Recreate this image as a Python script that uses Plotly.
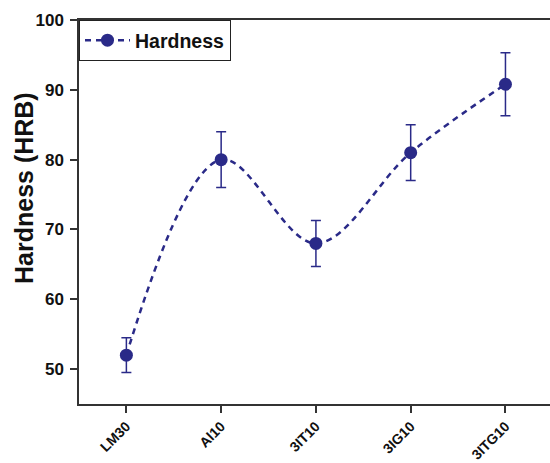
import plotly.graph_objects as go

categories = ["LM30", "Al10", "3IT10", "3IG10", "3ITG10"]
hardness = [52, 80, 68, 81, 90.8]
hardness_err = [2.5, 4.0, 3.3, 4.0, 4.5]
y_ticks = [50, 60, 70, 80, 90, 100]

navy = "#2a2a88"
font_family = "Liberation Sans, Arial, sans-serif"

fig = go.Figure()
fig.add_trace(go.Scatter(
    x=list(range(len(categories))),
    y=hardness,
    mode="lines+markers",
    name="Hardness",
    line=dict(color=navy, width=2.5, dash="6px,5px", shape="spline", smoothing=1.0),
    marker=dict(color=navy, size=13, symbol="circle", line=dict(color=navy, width=0)),
    error_y=dict(type="data", array=hardness_err, visible=True, color=navy,
                 thickness=1.5, width=5),
))

fig.update_layout(
    width=550, height=463,
    margin=dict(l=79, r=0, t=20, b=59),
    paper_bgcolor="white", plot_bgcolor="white",
    font=dict(family=font_family, color="#111"),
    showlegend=True,
    legend=dict(x=0, y=1, xanchor="left", yanchor="top",
                bordercolor="#222", borderwidth=1, bgcolor="white",
                font=dict(size=19.5, family=font_family, color="#111", weight="bold"),
                itemwidth=45, tracegroupgap=0),
    xaxis=dict(
        range=[-0.5, 4.47], tickmode="array",
        tickvals=list(range(len(categories))), ticktext=categories,
        tickangle=-45, ticks="outside", ticklen=7, tickwidth=1.5, tickcolor="#333",
        showline=True, linecolor="#333", linewidth=1.5, mirror=True,
        showgrid=False, zeroline=False, automargin=False,
        tickfont=dict(size=14, family=font_family, color="#111", weight="bold"),
    ),
    yaxis=dict(
        range=[45, 100], tickmode="array", tickvals=y_ticks,
        ticks="outside", ticklen=7, tickwidth=1.5, tickcolor="#333",
        showline=True, linecolor="#333", linewidth=1.5,
        showgrid=False, zeroline=False, automargin=False,
        ticklabelstandoff=3,
        tickfont=dict(size=17, family=font_family, color="#111", weight="bold"),
    ),
)

fig.add_annotation(
    text="Hardness (HRB)", xref="paper", yref="paper",
    x=(24 - 79) / 471, y=(404 - 188) / 384, xanchor="center", yanchor="middle",
    textangle=-90, showarrow=False,
    font=dict(size=25, family=font_family, color="#111", weight="bold"),
)

fig.write_html("out.html", config={"displayModeBar": False},
               post_script="document.body.style.margin='0';")
